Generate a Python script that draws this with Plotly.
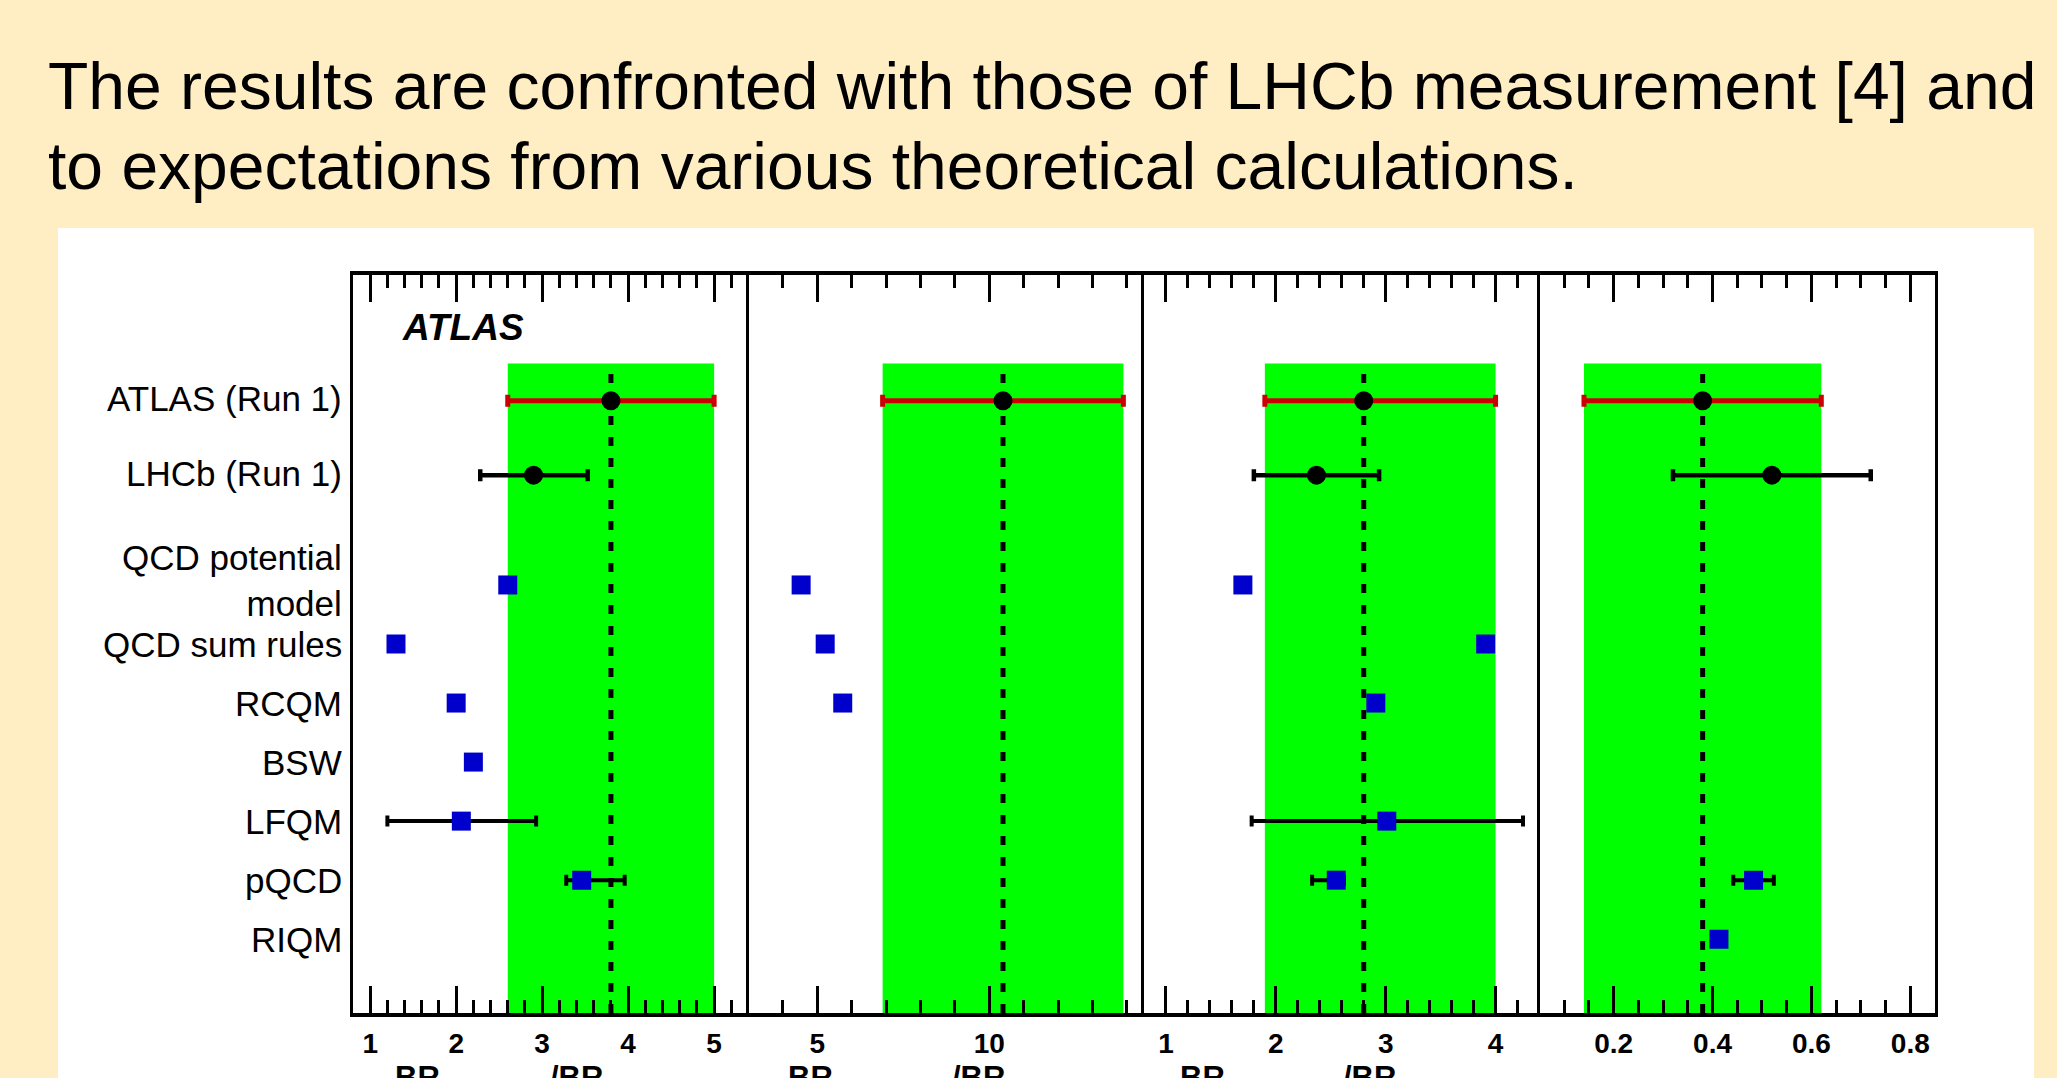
import plotly.graph_objects as go

W, H = 2057, 1078

# ---------------- data ----------------
theory_models = ["QCD potential<br>model", "QCD sum rules", "RCQM", "BSW", "LFQM", "pQCD", "RIQM"]
exp_labels = ["ATLAS (Run 1)", "LHCb (Run 1)"]

# x-axis titles (numerator / denominator); only their top edge is on the page
title_num = ["<b>BR<sub>J/ψ Ds+</sub></b>", "<b>BR<sub>J/ψ Ds*+</sub></b>", "<b>BR<sub>J/ψ Ds*+</sub></b>"]
title_den = ["<b>/BR<sub>J/ψ π+</sub></b>", "<b>/BR<sub>J/ψ π+</sub></b>", "<b>/BR<sub>J/ψ Ds+</sub></b>"]

ticks_p1 = [1, 2, 3, 4, 5]
ticks_p2 = [5, 10]
ticks_p3 = [1, 2, 3, 4]
ticks_p4 = [0.2, 0.4, 0.6, 0.8]
ticklabels_p1 = ["1", "2", "3", "4", "5"]
ticklabels_p2 = ["5", "10"]
ticklabels_p3 = ["1", "2", "3", "4"]
ticklabels_p4 = ["0.2", "0.4", "0.6", "0.8"]

atlas_val = [3.8, 10.4, 2.8, 0.38]
atlas_err_minus = [1.2, 3.5, 0.9, 0.24]
atlas_err_plus = [1.2, 3.5, 1.2, 0.24]

lhcb_val = [2.90, None, 2.37, 0.52]
lhcb_err_minus = [0.62, None, 0.57, 0.20]
lhcb_err_plus = [0.63, None, 0.57, 0.20]

theory_p1 = [2.60, 1.30, 2.00, 2.20, 2.06, 3.46, None]
theory_p1_em = [0, 0, 0, 0, 0.86, 0.18, 0]
theory_p1_ep = [0, 0, 0, 0, 0.87, 0.50, 0]

theory_p2 = [4.53, 5.23, 5.74, None, None, None, None]
theory_p2_em = [0, 0, 0, 0, 0, 0, 0]
theory_p2_ep = [0, 0, 0, 0, 0, 0, 0]

theory_p3 = [1.70, 3.91, 2.91, None, 3.01, 2.55, None]
theory_p3_em = [0, 0, 0, 0, 1.23, 0.22, 0]
theory_p3_ep = [0, 0, 0, 0, 1.24, 0.07, 0]

theory_p4 = [None, None, None, None, None, 0.483, 0.413]
theory_p4_em = [0, 0, 0, 0, 0, 0.041, 0]
theory_p4_ep = [0, 0, 0, 0, 0, 0.041, 0]

# ---------------- layout helpers ----------------
theory = [theory_p1, theory_p2, theory_p3, theory_p4]
theory_em = [theory_p1_em, theory_p2_em, theory_p3_em, theory_p4_em]
theory_ep = [theory_p1_ep, theory_p2_ep, theory_p3_ep, theory_p4_ep]
tickvals = [ticks_p1, ticks_p2, ticks_p3, ticks_p4]
ticktexts = [ticklabels_p1, ticklabels_p2, ticklabels_p3, ticklabels_p4]

x_ranges = [[0.8, 5.4], [3.0, 14.5], [0.8, 4.4], [0.05, 0.85]]
minor_dt = [0.2, 1.0, 0.2, 0.05]

Y_RANGE = [0, 12.5]
Y_ATLAS = 10.37
Y_LHCB = 9.11
Y_THEORY = [7.25 - i for i in range(len(theory_models))]
Y_BAND_TOP = 11.0

px_edges = [353, 748.5, 1144, 1539.5, 1935]
plot_top_px, plot_bot_px = 275, 1013
title_num_px = [395, 788, 1180]
title_den_px = [550, 952, 1343]

def px_x(p):
    return p / W

def px_y(p):
    return 1 - p / H

FONT = "Liberation Sans, Arial, Helvetica, sans-serif"
BLUE = "#0000CC"
RED = "#CC0000"
GREEN = "#00FF00"

fig = go.Figure()

for i in range(4):
    xa = "x" if i == 0 else f"x{i+1}"
    ya = "y" if i == 0 else f"y{i+1}"
    # ATLAS
    fig.add_trace(go.Scatter(
        x=[atlas_val[i]], y=[Y_ATLAS], xaxis=xa, yaxis=ya, mode="markers",
        marker=dict(symbol="circle", size=19, color="black"),
        error_x=dict(type="data", symmetric=False, array=[atlas_err_plus[i]],
                     arrayminus=[atlas_err_minus[i]], color=RED, thickness=5, width=6),
        showlegend=False, hoverinfo="x"))
    # LHCb
    if lhcb_val[i] is not None:
        fig.add_trace(go.Scatter(
            x=[lhcb_val[i]], y=[Y_LHCB], xaxis=xa, yaxis=ya, mode="markers",
            marker=dict(symbol="circle", size=19, color="black"),
            error_x=dict(type="data", symmetric=False, array=[lhcb_err_plus[i]],
                         arrayminus=[lhcb_err_minus[i]], color="black", thickness=4.5, width=6),
            showlegend=False, hoverinfo="x"))
    # theory
    xs, ys, ep, em = [], [], [], []
    for k, v in enumerate(theory[i]):
        if v is None:
            continue
        xs.append(v)
        ys.append(Y_THEORY[k])
        ep.append(theory_ep[i][k])
        em.append(theory_em[i][k])
    fig.add_trace(go.Scatter(
        x=xs, y=ys, xaxis=xa, yaxis=ya, mode="markers",
        marker=dict(symbol="square", size=19, color=BLUE),
        error_x=dict(type="data", symmetric=False, array=ep, arrayminus=em,
                     color="black", thickness=4, width=5.5),
        showlegend=False, hoverinfo="x"))

    # green band (ATLAS total uncertainty)
    fig.add_shape(type="rect", xref=xa, yref=ya,
                  x0=atlas_val[i] - atlas_err_minus[i], x1=atlas_val[i] + atlas_err_plus[i],
                  y0=Y_RANGE[0], y1=Y_BAND_TOP, fillcolor=GREEN, line=dict(width=0),
                  layer="below")
    fig.add_shape(type="line", xref=xa, yref=ya,
                  x0=atlas_val[i], x1=atlas_val[i], y0=Y_RANGE[0], y1=Y_BAND_TOP,
                  line=dict(color="black", width=5, dash="9px,12px"), layer="below")

    dom = [px_x(px_edges[i]), px_x(px_edges[i + 1])]
    xkey = "xaxis" if i == 0 else f"xaxis{i+1}"
    ykey = "yaxis" if i == 0 else f"yaxis{i+1}"
    fig.update_layout(**{
        xkey: dict(domain=dom, range=x_ranges[i], anchor=ya,
                   tickmode="array", tickvals=tickvals[i], ticktext=ticktexts[i],
                   ticks="inside", ticklen=27, tickwidth=3, tickcolor="black",
                   ticklabelstandoff=3,
                   minor=dict(ticks="inside", ticklen=13, tickwidth=3, tickcolor="black",
                              tickmode="linear", tick0=0, dtick=minor_dt[i]),
                   showline=True, linewidth=3.5, linecolor="black", mirror="ticks",
                   showgrid=False, zeroline=False,
                   tickfont=dict(family=FONT, size=28, color="black", weight="bold")),
        ykey: dict(domain=[px_y(plot_bot_px), px_y(plot_top_px)], range=Y_RANGE, anchor=xa,
                   showticklabels=False, ticks="", showgrid=False, zeroline=False,
                   showline=True, linewidth=3, linecolor="black",
                   mirror=(i == 3)),
    })

    # axis titles (mostly cut off at the bottom of the page)
    if i < 3:
        fig.add_annotation(text=title_num[i], xref="paper", yref="paper",
                           x=px_x(title_num_px[i] - 2), y=px_y(1080), xanchor="left",
                           yanchor="middle", showarrow=False,
                           font=dict(family=FONT, size=31, color="black"))
        fig.add_annotation(text=title_den[i], xref="paper", yref="paper",
                           x=px_x(title_den_px[i] - 2), y=px_y(1080), xanchor="left",
                           yanchor="middle", showarrow=False,
                           font=dict(family=FONT, size=31, color="black"))

# row labels
for lab, yv in zip(exp_labels, [Y_ATLAS, Y_LHCB]):
    fig.add_annotation(text=lab, xref="paper", yref="y", x=px_x(344), y=yv + 0.03,
                       xanchor="right", yanchor="middle", showarrow=False, align="right",
                       font=dict(family=FONT, size=35, color="black"))
for k, lab in enumerate(theory_models):
    yv = Y_THEORY[k] + (0.08 if "<br>" in lab else 0)
    fig.add_annotation(text=lab, xref="paper", yref="y", x=px_x(344), y=yv,
                       xanchor="right", yanchor="middle", showarrow=False, align="right",
                       font=dict(family=FONT, size=35, color="black"))

# ATLAS label
fig.add_annotation(text="<b><i>ATLAS</i></b>", xref="paper", yref="paper",
                   x=px_x(400), y=px_y(327), xanchor="left", yanchor="middle",
                   showarrow=False, font=dict(family=FONT, size=37, color="black"))

# slide title
fig.add_annotation(text="The results are confronted with those of LHCb measurement [4] and",
                   xref="paper", yref="paper", x=px_x(46), y=px_y(86),
                   xanchor="left", yanchor="middle", showarrow=False,
                   font=dict(family=FONT, size=66, color="black"))
fig.add_annotation(text="to expectations from various theoretical calculations.",
                   xref="paper", yref="paper", x=px_x(46), y=px_y(166),
                   xanchor="left", yanchor="middle", showarrow=False,
                   font=dict(family=FONT, size=66, color="black"))

# white canvas
fig.add_shape(type="rect", xref="paper", yref="paper",
              x0=px_x(58), x1=px_x(2034), y0=-0.2, y1=px_y(228),
              fillcolor="white", line=dict(width=0), layer="below")

fig.update_layout(width=W, height=H, margin=dict(l=0, r=0, t=0, b=0),
                  paper_bgcolor="#FFEDC3", plot_bgcolor="white",
                  showlegend=False)

fig.write_html("out.html")
